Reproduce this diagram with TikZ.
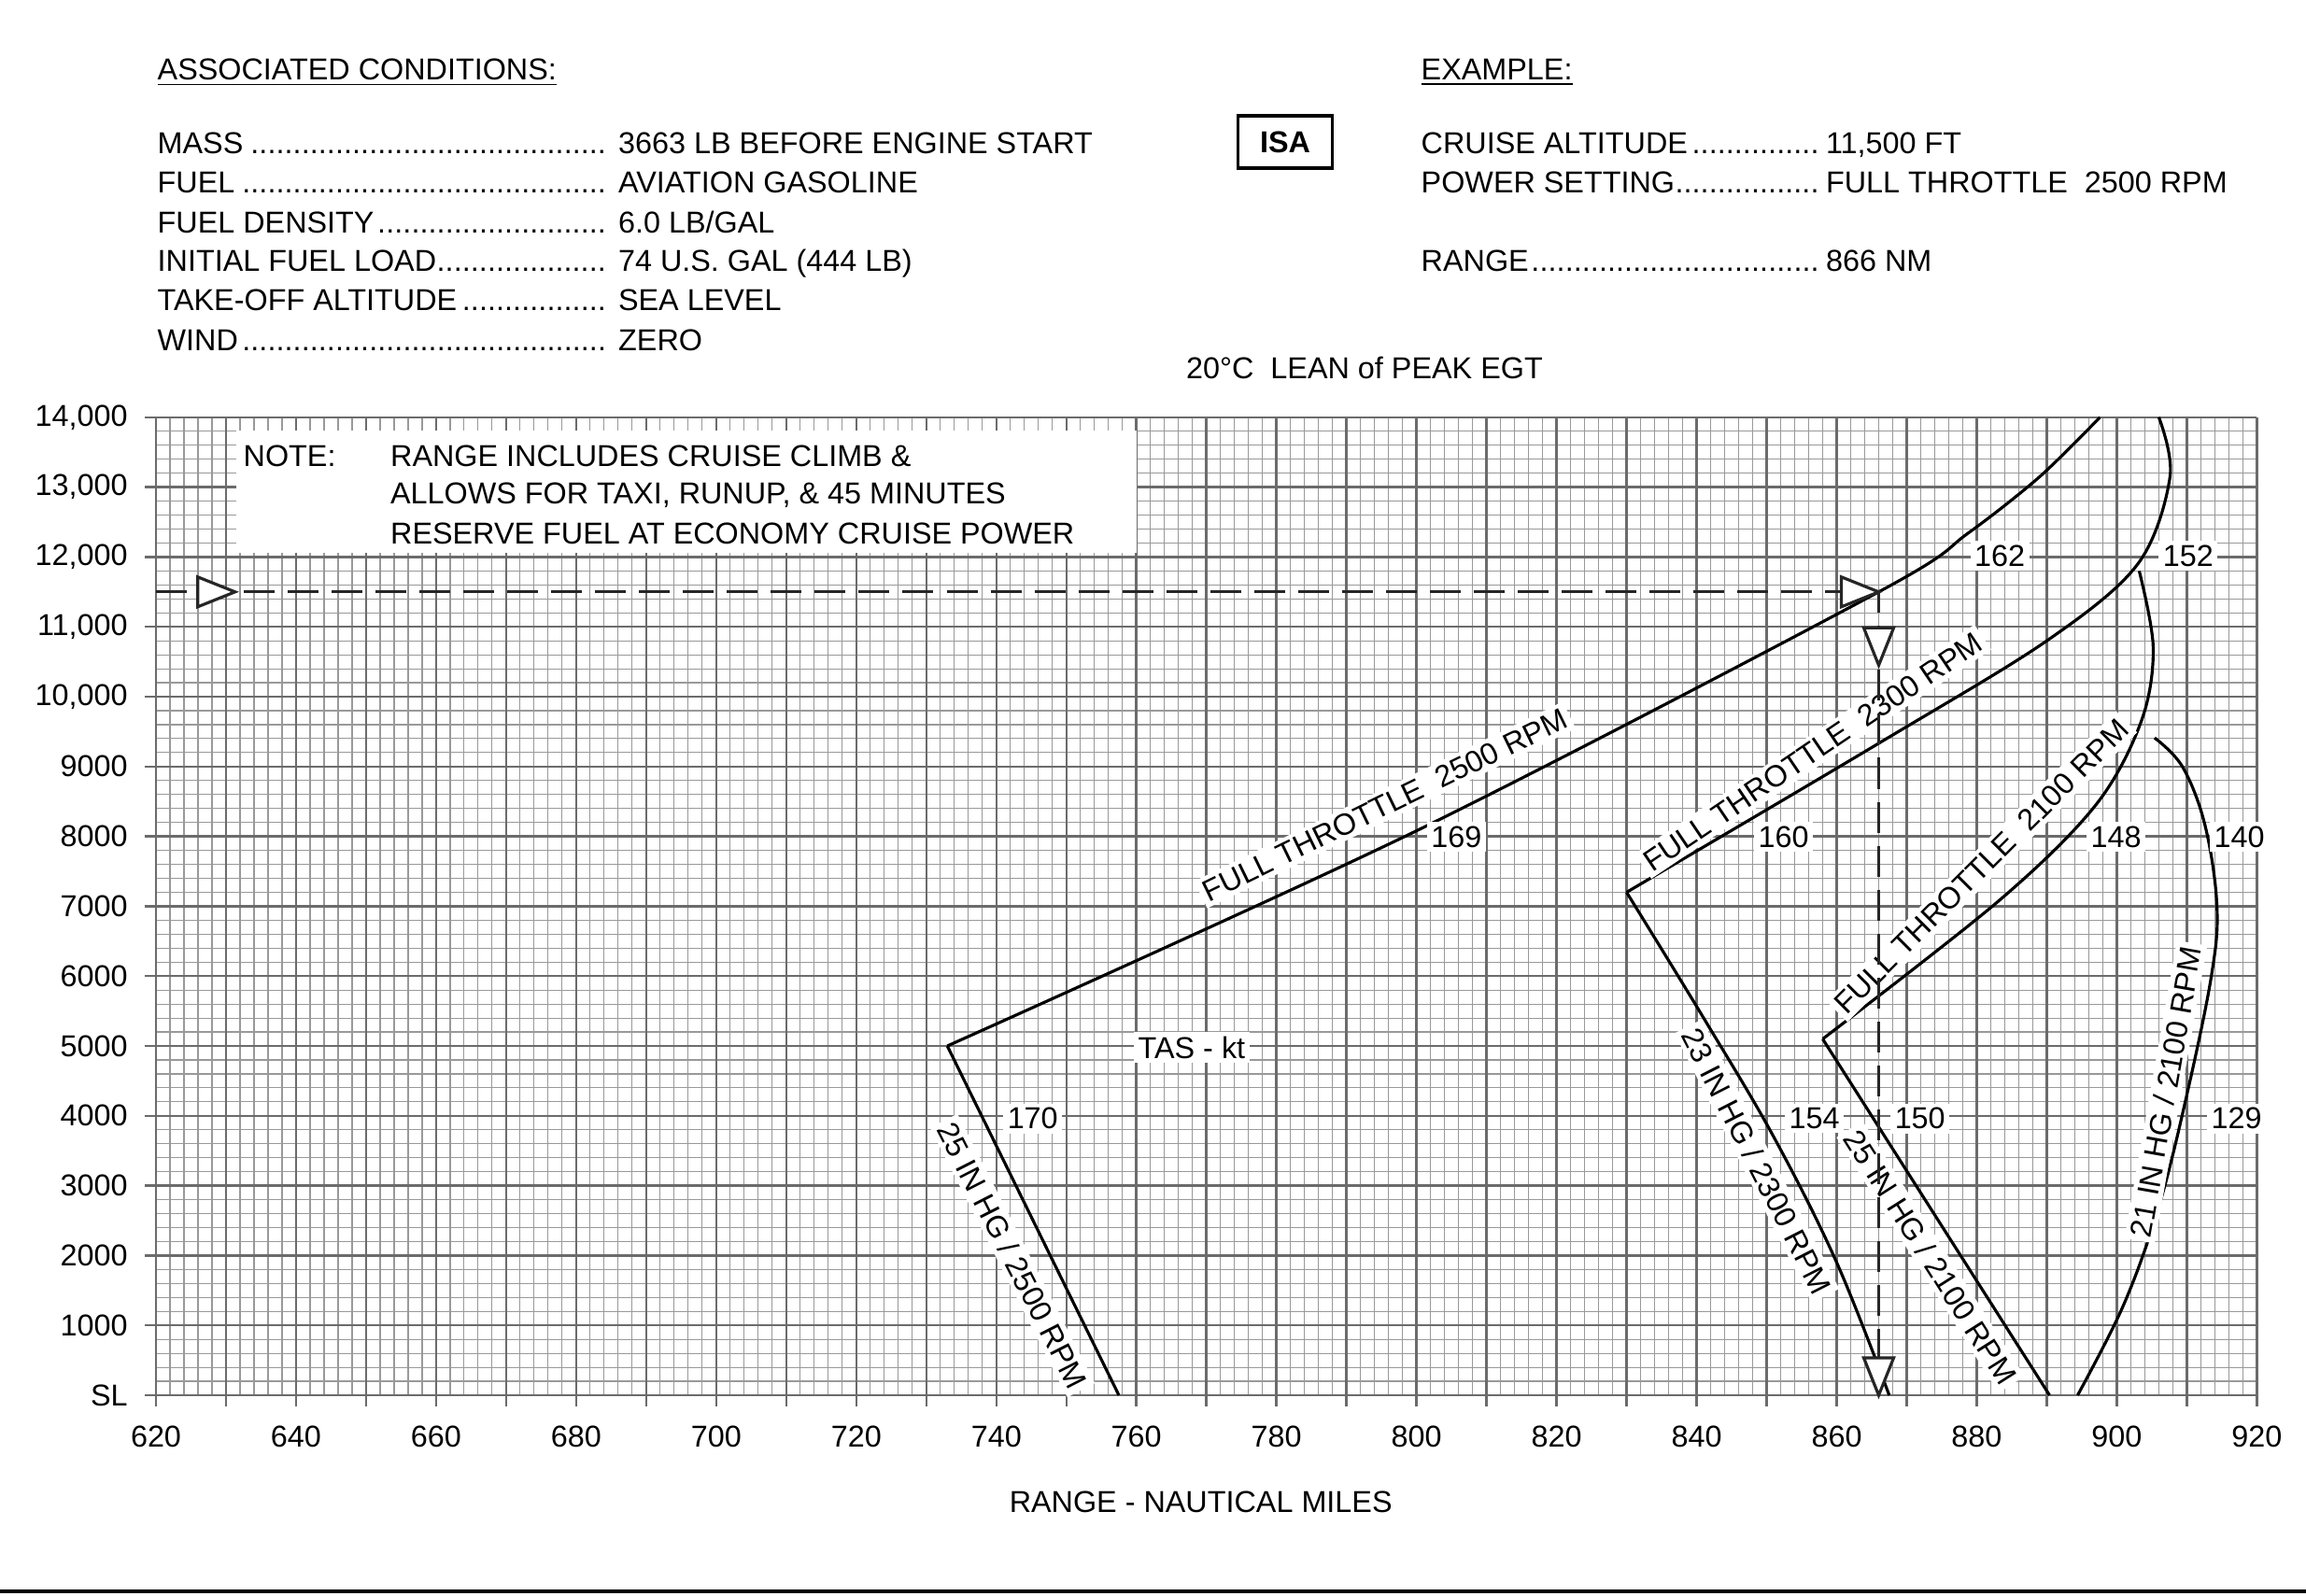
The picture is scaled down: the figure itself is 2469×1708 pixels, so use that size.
\documentclass[tikz,border=0pt]{standalone}
\usepackage{fontspec}
\setmainfont{Liberation Sans}
\usetikzlibrary{positioning}
\tikzset{
  minor/.style={black!40, line width=0.33pt},
  major/.style={black!58, line width=0.7pt},
  curve/.style={line width=0.9pt},
  lbl/.style={fill=white, inner sep=1.3pt},
  expath/.style={line width=0.8pt, black!85, dash pattern=on 0.33cm off 0.14cm},
  trimark/.style={line width=0.9pt, black!85, fill=white},
  hdr/.style={anchor=base west, inner sep=0pt}
}
% open triangle marker: tip at #1, pointing to angle #2
\newcommand{\exmark}[2]{\draw[trimark, rotate around={#2:(#1)}] (#1) -- ++(-0.4cm,0.16cm) -- ++(0,-0.32cm) -- cycle;}
\newcommand{\leadfill}{\leaders\hbox to 0.28em{\hss.\hss}\hfill}
\begin{document}
\begin{tikzpicture}[x=0.01cm, y=-0.01cm, font=\fontsize{9.2}{11}\selectfont]
\useasboundingbox (0,0) rectangle (2469,1708);
%heading block
\node[hdr] (assoc) at (168,85) {\underline{ASSOCIATED CONDITIONS:}};
\node[hdr] (mass) at (168,164) {\makebox[4.84cm][l]{MASS\leadfill} 3663 LB BEFORE ENGINE START};
\node[hdr] (fuel) at (168,206) {\makebox[4.84cm][l]{FUEL\leadfill} AVIATION GASOLINE};
\node[hdr] (dens) at (168,249) {\makebox[4.84cm][l]{FUEL DENSITY\leadfill} 6.0 LB/GAL};
\node[hdr] (load) at (168,290) {\makebox[4.84cm][l]{INITIAL FUEL LOAD\leadfill} 74 U.S. GAL (444 LB)};
\node[hdr] (toalt) at (168,332) {\makebox[4.84cm][l]{TAKE-OFF ALTITUDE\leadfill} SEA LEVEL};
\node[hdr] (wind) at (168,375) {\makebox[4.84cm][l]{WIND\leadfill} ZERO};
\node[draw, line width=0.9pt, minimum width=1.01cm, minimum height=0.56cm, font=\fontsize{9.2}{11}\selectfont\bfseries] (isa) at (1376,152) {ISA};
\node[hdr] (example) at (1521,85) {\underline{EXAMPLE:}};
\node[hdr] (cralt) at (1521,164) {\makebox[4.33cm][l]{CRUISE ALTITUDE\leadfill}11,500 FT};
\node[hdr] (power) at (1521,206) {\makebox[4.33cm][l]{POWER SETTING\leadfill}FULL THROTTLE\ \ 2500 RPM};
\node[hdr] (range) at (1521,290) {\makebox[4.33cm][l]{RANGE\leadfill}866 NM};
\node (lean) at (1461,394) {20°C\ \ LEAN of PEAK EGT};
%chart in data units (NM, FT)
\begin{scope}[shift={(-4481.7,1494)}, x=0.07493cm, y=0.0007468cm]
%grid
\foreach \x in {620,622,...,920} \draw[minor] (\x,0) -- (\x,14000);
\foreach \y in {0,200,...,14000} \draw[minor] (620,\y) -- (920,\y);
\foreach \x in {620,630,...,920} \draw[major] (\x,-160) -- (\x,14000);
\foreach \y in {0,1000,...,14000} \draw[major] (618.4,\y) -- (920,\y);
%axis labels
\foreach \x in {620,640,...,920} \node (xl\x) at (\x,-590) {\x};
\node[anchor=east] (ysl) at (617.6,0) {SL};
\foreach \y in {1000,2000,...,9000} \node[anchor=east] (yl\y) at (617.6,\y) {\y};
\foreach \y/\t in {10000/{10,000},11000/{11,000},12000/{12,000},13000/{13,000},14000/{14,000}}
  \node[anchor=east] (yl\y) at (617.6,\y) {\t};
\node (xtitle) at (769.2,-1530) {RANGE - NAUTICAL MILES};
%note
\fill[white] (631.5,12065) rectangle (760,13805);
\node[anchor=west, inner sep=0pt] (note) at (632.4,13444) {NOTE:};
\node[anchor=west, inner sep=0pt] (note1) at (653.4,13444) {RANGE INCLUDES CRUISE CLIMB \&};
\node[anchor=west, inner sep=0pt] (note2) at (653.4,12881) {ALLOWS FOR TAXI, RUNUP, \& 45 MINUTES};
\node[anchor=west, inner sep=0pt] (note3) at (653.4,12333) {RESERVE FUEL AT ECONOMY CRUISE POWER};
%curves
\draw[curve] (757.5,0) -- (733,5000);
\draw[curve] plot[smooth, tension=0.5] coordinates {(733,5000) (800,8080) (866,11500) (878.7,12336) (889,13150) (897.6,14000)};
\draw[curve] plot[smooth, tension=0.6] coordinates {(867.5,0) (860,1900) (851,3700) (841,5400) (830,7200)};
\draw[curve] plot[smooth, tension=0.55] coordinates {(830,7200) (866.3,9350) (890,10800) (903,11900) (907.6,13150) (906,14000)};
\draw[curve] (890.4,0) -- (858,5100);
\draw[curve] plot[smooth, tension=0.55] coordinates {(858,5100) (883.2,7082) (897,8450) (903.5,9650) (905.2,10700) (903.2,11800)};
\draw[curve] plot[smooth, tension=0.6] coordinates {(894.4,0) (901,1300) (906,2700) (910,4300) (913.5,6000) (914.3,7000) (912.6,8157) (909.4,8993) (905.4,9410)};
%curve labels
\node[lbl, rotate=26] (ft25) at (795.5,8450) {FULL THROTTLE\ \ 2500 RPM};
\node[lbl] (v169) at (805.7,7990) {169};
\node[lbl] (v170) at (745.2,3963) {170};
\node[lbl] (tas) at (767.9,4975) {TAS - kt};
\node[lbl, rotate=-63] (mp25a) at (742.3,2000) {25 IN HG / 2500 RPM};
\node[lbl, rotate=34] (ft23) at (856.6,9212) {FULL THROTTLE\ \ 2300 RPM};
\node[lbl] (v160) at (852.4,7990) {160};
\node[lbl, rotate=-63] (mp23) at (848.6,3352) {23 IN HG / 2300 RPM};
\node[lbl] (v154) at (856.8,3963) {154};
\node[lbl] (v150) at (871.9,3963) {150};
\node[lbl, rotate=-57.6] (mp25b) at (873.4,1981) {25 IN HG / 2100 RPM};
\node[lbl, rotate=45] (ft21) at (880.7,7568) {FULL THROTTLE\ \ 2100 RPM};
\node[lbl] (v148) at (899.9,7990) {148};
\node[lbl] (v140) at (917.5,7990) {140};
\node[lbl] (v152) at (910.2,12015) {152};
\node[lbl] (v162) at (883.3,12015) {162};
\node[lbl, rotate=80] (mp21) at (907,4342) {21 IN HG / 2100 RPM};
\node[lbl] (v129) at (917.1,3963) {129};
%example
\coordinate (exstart) at (620,11500);
\coordinate (exhit) at (866,11500);
\coordinate (exend) at (866,0);
\coordinate (exmid) at (866,10450);
\coordinate (exin) at (631.3,11500);
\draw[expath] (exstart) -- (exhit) -- (exend);
\exmark{exin}{0}
\exmark{exhit}{0}
\exmark{exmid}{-90}
\exmark{exend}{-90}
\end{scope}
\draw[line width=1.2pt] (0,1704) -- (2469,1704);
\end{tikzpicture}
\end{document}
